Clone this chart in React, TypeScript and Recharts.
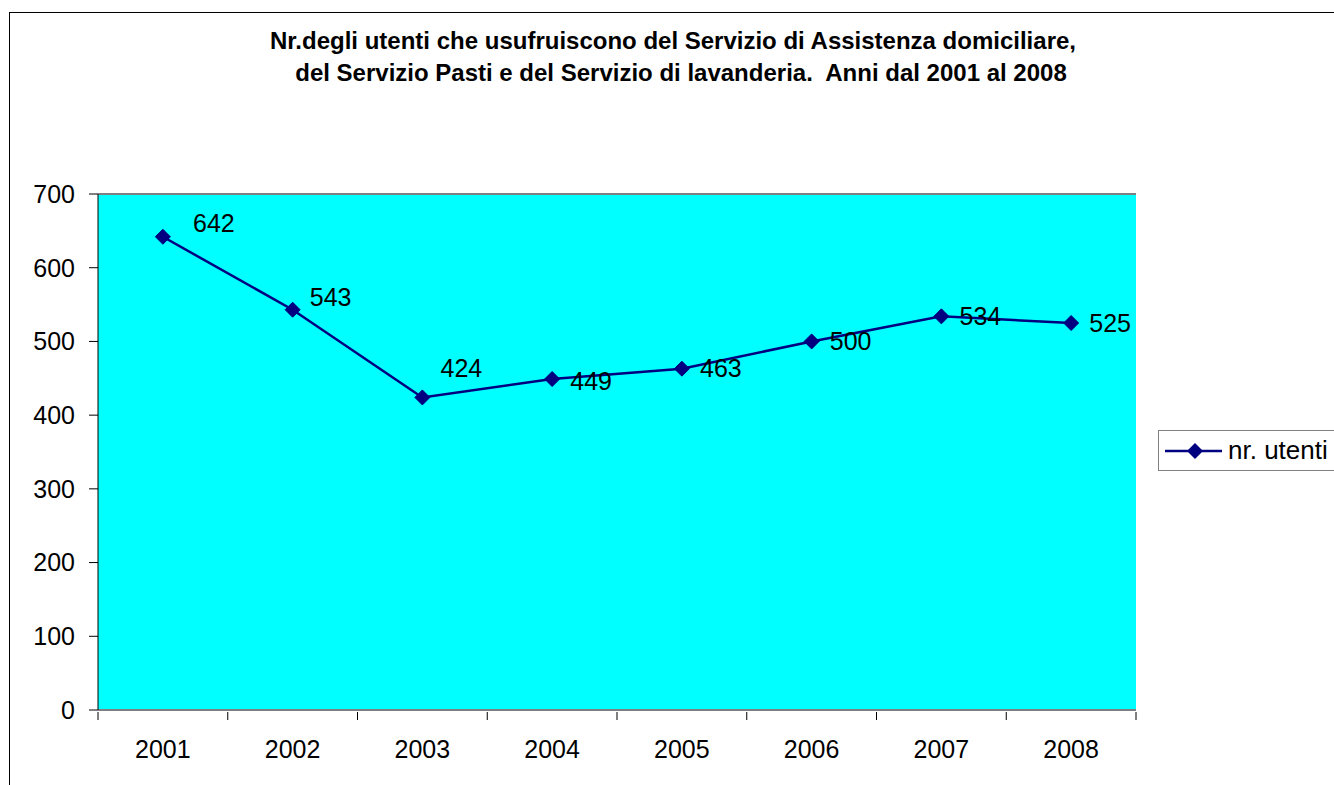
import React from 'react';
import { LineChart, Line, XAxis, YAxis, CartesianGrid, Legend, ReferenceLine, LabelList } from 'recharts';

const years = ['2001', '2002', '2003', '2004', '2005', '2006', '2007', '2008'];
const utenti = [642, 543, 424, 449, 463, 500, 534, 525];
const yTicks = [0, 100, 200, 300, 400, 500, 600, 700];

const data = years.map((y, i) => ({ anno: y, utenti: utenti[i] }));

const FONT = '"Liberation Sans", Arial, sans-serif';
const NAVY = '#000080';
const HALF_BAND = 64.875;
const LEGEND_W = 200;

// rombo del marker
const Diamond = (props: any) => {
  const { cx, cy } = props;
  if (cx == null || cy == null) return null;
  const r = 7.5;
  return <path d={`M${cx},${cy - r}L${cx + r},${cy}L${cx},${cy + r}L${cx - r},${cy}Z`} fill={NAVY} stroke={NAVY} />;
};

// etichette spostate a mano come nel grafico originale
const labelShift = [
  { dx: 51, dy: -14 },
  { dx: 38, dy: -13 },
  { dx: 39, dy: -29 },
  { dx: 39, dy: 2 },
  { dx: 39, dy: -1 },
  { dx: 39, dy: 0 },
  { dx: 39, dy: 0 },
  { dx: 39, dy: 0 },
];

const ValueLabel = (props: any) => {
  const { x, y, value, index } = props;
  const s = labelShift[index] || { dx: 39, dy: 0 };
  return (
    <text x={x + s.dx} y={y + s.dy} textAnchor="middle" dominantBaseline="central" fontSize={25} fontFamily={FONT} fill="#000">
      {value}
    </text>
  );
};

// tacche tra le categorie, come in Excel
const XTick = (props: any) => {
  const { x, y, payload, index } = props;
  const last = index === years.length - 1;
  const base = y - 6;
  return (
    <g>
      <line x1={x - HALF_BAND} y1={base} x2={x - HALF_BAND} y2={base + 8} stroke="#000" />
      {last && <line x1={x + HALF_BAND} y1={base} x2={x + HALF_BAND} y2={base + 8} stroke="#000" />}
      <text x={x} y={base + 37} textAnchor="middle" dominantBaseline="central" fontSize={25} fontFamily={FONT} fill="#000">
        {payload.value}
      </text>
    </g>
  );
};

const LegendBox = () => (
  <div
    style={{
      width: LEGEND_W,
      height: 41,
      border: '1px solid #808080',
      background: '#fff',
      display: 'flex',
      alignItems: 'center',
      fontFamily: FONT,
      fontSize: 26,
      color: '#000',
      boxSizing: 'border-box',
    }}
  >
    <svg width={63} height={20} style={{ marginLeft: 6, flexShrink: 0 }}>
      <line x1={0} y1={10} x2={57} y2={10} stroke={NAVY} strokeWidth={2.5} />
      <path d="M30,2L38,10L30,18L22,10Z" fill={NAVY} />
    </svg>
    <span style={{ whiteSpace: 'nowrap' }}>nr. utenti</span>
  </div>
);

const titleStyle: React.CSSProperties = {
  position: 'absolute',
  left: 0,
  textAlign: 'center',
  fontFamily: FONT,
  fontWeight: 'bold',
  fontSize: 24,
  lineHeight: '28px',
  color: '#000',
  whiteSpace: 'nowrap',
};

export default function App() {
  return (
    <div style={{ position: 'absolute', left: 0, top: 0, width: 1334, height: 785, overflow: 'hidden', background: '#fff' }}>
      <div style={{ position: 'absolute', left: 9, top: 12, width: 1500, height: 1000, border: '1px solid #000' }} />
      <div style={{ ...titleStyle, top: 27, width: 1346 }}>
        Nr.degli utenti che usufruiscono del Servizio di Assistenza domiciliare,
      </div>
      <div style={{ ...titleStyle, top: 59, width: 1362 }}>
        del Servizio Pasti e del Servizio di lavanderia.&nbsp; Anni dal 2001 al 2008
      </div>
      <div style={{ position: 'absolute', left: 0, top: 0 }}>
        <LineChart width={1334} height={785} data={data} margin={{ top: 194, right: 198 - LEGEND_W, bottom: 0, left: 0 }}>
          <CartesianGrid vertical={false} stroke="#000" strokeOpacity={1} fill="#00FFFF" fillOpacity={1} />
          <XAxis
            dataKey="anno"
            padding={{ left: HALF_BAND, right: HALF_BAND }}
            axisLine={{ stroke: '#808080', strokeWidth: 2 }}
            tickLine={false}
            tick={<XTick />}
            interval={0}
            height={75}
          />
          <YAxis
            yAxisId="left"
            domain={[0, 700]}
            ticks={yTicks}
            width={98}
            axisLine={{ stroke: '#000' }}
            tickLine={{ stroke: '#000' }}
            tickSize={9}
            tickMargin={14}
            tick={{ fontSize: 25, fontFamily: FONT, fill: '#000' }}
            interval={0}
          />
          <YAxis
            yAxisId="right"
            orientation="right"
            domain={[0, 700]}
            width={0}
            axisLine={{ stroke: '#808080', strokeWidth: 2 }}
            tick={false}
            tickLine={false}
          />
          <ReferenceLine yAxisId="left" y={700} stroke="#808080" strokeWidth={2} />
          <Legend
            layout="vertical"
            align="right"
            verticalAlign="middle"
            content={<LegendBox />}
            wrapperStyle={{ left: 1158, top: 430, right: 'auto', width: LEGEND_W }}
          />
          <Line
            yAxisId="left"
            type="linear"
            dataKey="utenti"
            name="nr. utenti"
            stroke={NAVY}
            strokeWidth={2.5}
            dot={<Diamond />}
            activeDot={false}
            isAnimationActive={false}
          >
            <LabelList dataKey="utenti" content={<ValueLabel />} />
          </Line>
        </LineChart>
      </div>
    </div>
  );
}
